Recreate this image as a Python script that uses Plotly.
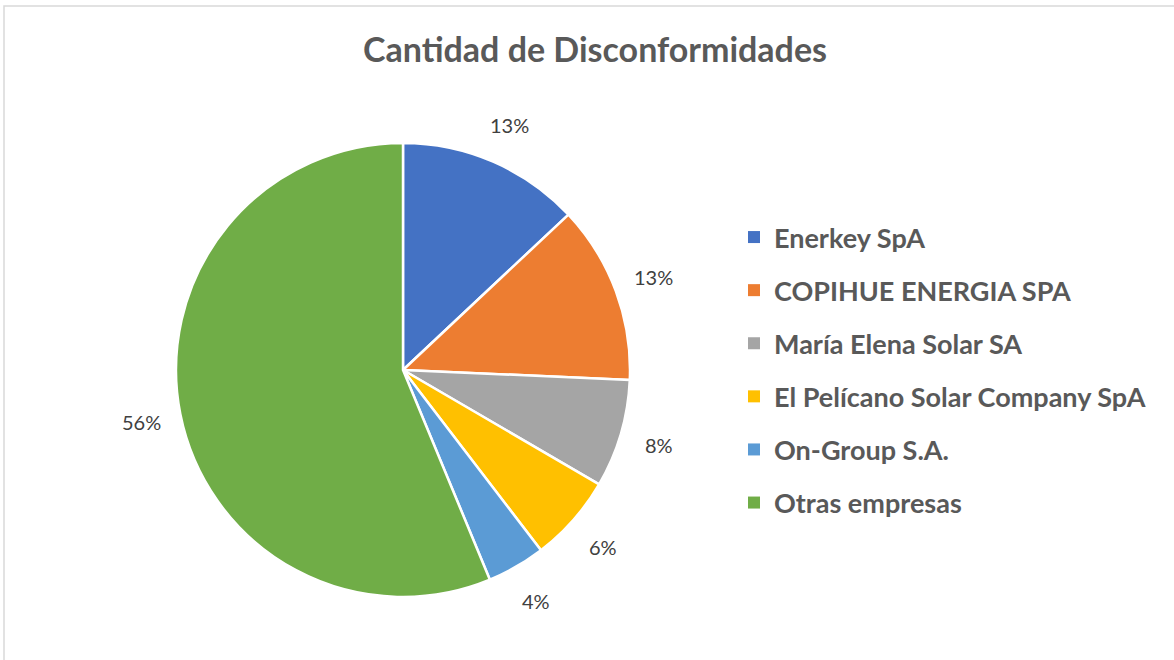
import math
import plotly.graph_objects as go

# ---- data (percent shares) ----
companies = ["Enerkey SpA", "COPIHUE ENERGIA SPA", "María Elena Solar SA",
             "El Pelícano Solar Company SpA", "On-Group S.A.", "Otras empresas"]
shares = [13.0, 12.7, 7.7, 6.2, 4.15, 56.25]
colors = ["#4472C4", "#ED7D31", "#A5A5A5", "#FFC000", "#5B9BD5", "#70AD47"]
title_text = "Cantidad de Disconformidades"

W, H = 1174, 660
ML, MT = 4, 6
PW, PH = W - ML, H - MT
FONT = "Lato, Carlito, Calibri, sans-serif"

# pie geometry in pixels
cx, cy, R = 403, 370, 227
dom_x = [(cx - R - ML) / PW, (cx + R - ML) / PW]
dom_y = [1 - (cy + R - MT) / PH, 1 - (cy - R - MT) / PH]

def to_paper(px, py):
    return (px - ML) / PW, 1 - (py - MT) / PH

fig = go.Figure()
fig.add_trace(go.Pie(
    labels=companies, values=shares, sort=False, direction="clockwise",
    rotation=0, marker=dict(colors=colors, line=dict(color="white", width=2.5)),
    textinfo="none", showlegend=False, domain=dict(x=dom_x, y=dom_y),
    hoverinfo="label+percent",
))

# percentage labels outside the slices, placed from the data angles
total = sum(shares)
cum = 0
annotations = []
for v in shares:
    mid = (cum + v / 2) / total * 2 * math.pi
    cum += v
    rl = R + 40
    px = cx + rl * math.sin(mid)
    py = cy - rl * math.cos(mid)
    xp, yp = to_paper(px, py)
    pct = round(v / total * 100 + 1e-9)
    annotations.append(dict(x=xp, y=yp, xref="paper", yref="paper",
                            text=f"{pct}%", showarrow=False,
                            xanchor="center", yanchor="middle",
                            font=dict(family=FONT, size=20, color="#404040")))

# legend entries
for i, (name, col) in enumerate(zip(companies, colors)):
    fig.add_trace(go.Scatter(x=[None], y=[None], mode="markers", name=name,
                             legendgroup=f"g{i}",
                             marker=dict(symbol="square", size=12, color=col)))

fig.update_layout(
    width=W, height=H,
    margin=dict(l=ML, r=0, t=MT, b=0),
    paper_bgcolor="white", plot_bgcolor="white",
    title=dict(text=f"<b>{title_text}</b>", x=(595 - ML) / PW, xanchor="center",
               y=1 - (50) / H, yanchor="middle", xref="paper", yref="container",
               font=dict(family=FONT, size=34, color="#595959")),
    xaxis=dict(visible=False), yaxis=dict(visible=False),
    legend=dict(x=(734 - ML) / PW, y=1 - (213 - MT) / PH, xanchor="left", yanchor="top",
                font=dict(family=FONT, size=27, color="#595959", weight="bold"),
                tracegroupgap=15, itemclick=False, bgcolor="rgba(0,0,0,0)"),
    annotations=annotations,
    shapes=[dict(type="rect", xref="paper", yref="paper", x0=0, y0=-0.02, x1=1.02, y1=1,
                 line=dict(color="#D9D9D9", width=1.5), fillcolor="rgba(0,0,0,0)")],
    showlegend=True,
)

fig.write_html("out.html", config={"displayModeBar": False},
               post_script="document.body.style.margin='0px';")
